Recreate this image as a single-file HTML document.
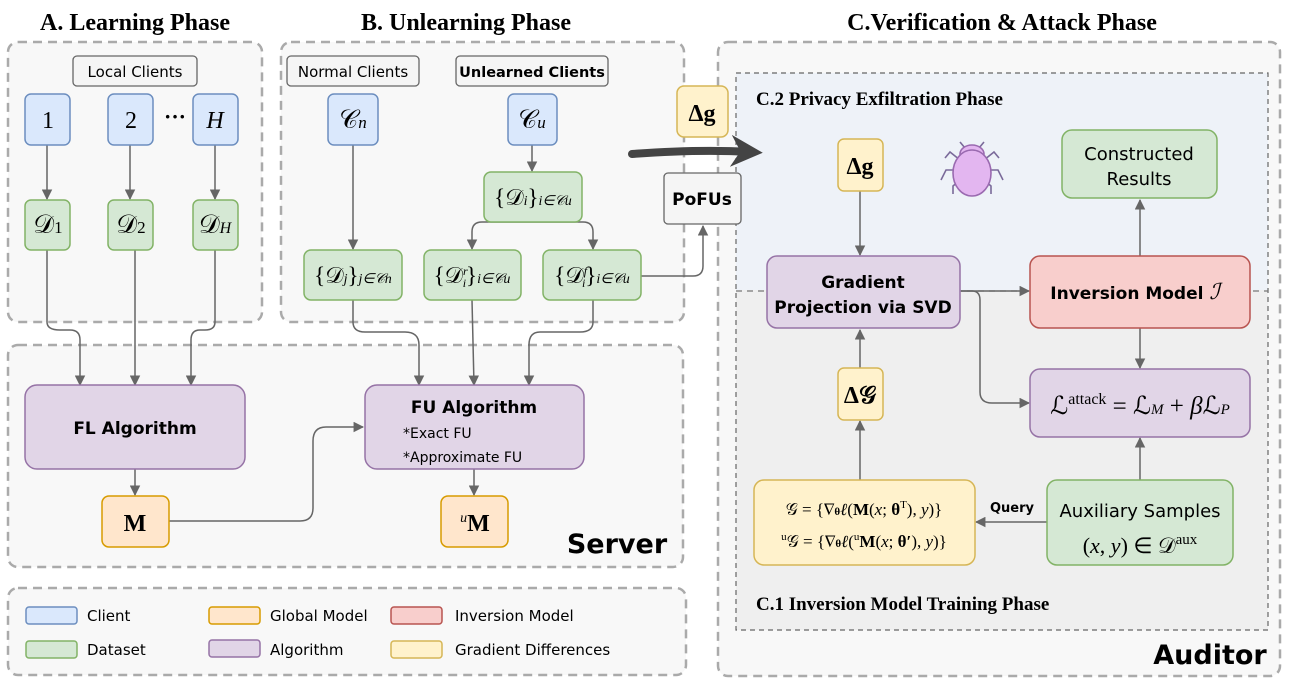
<!DOCTYPE html>
<html><head><meta charset="utf-8"><style>
body{margin:0;background:#fff}
svg{display:block}
.t{font-family:"DejaVu Sans","Liberation Sans",sans-serif;}
.s{font-family:"Liberation Serif",serif;}
</style></head><body>
<svg width="1292" height="690" viewBox="0 0 1292 690" xmlns="http://www.w3.org/2000/svg">
<defs>
<marker id="a" viewBox="0 0 10 10" refX="9" refY="5" markerWidth="7" markerHeight="7" orient="auto-start-reverse"><path d="M0,0 L10,5 L0,10 z" fill="#666"/></marker>
<marker id="b" viewBox="0 0 10 10" refX="6" refY="5" markerWidth="4" markerHeight="4" orient="auto"><path d="M0,0 L10,5 L0,10 L3,5 z" fill="#444"/></marker>
</defs>
<rect width="1292" height="690" fill="#fff"/>
<g class="s" font-weight="bold" font-size="24" text-anchor="middle" fill="#000">
<text x="135" y="30">A. Learning Phase</text>
<text x="466" y="30">B. Unlearning Phase</text>
<text x="1002" y="30">C.Verification &amp; Attack Phase</text>
</g>
<g fill="#f8f8f8" stroke="#aaa" stroke-width="2.5" stroke-dasharray="9,6">
<rect x="8" y="42" width="254" height="280" rx="10"/>
<rect x="281" y="42" width="403" height="280" rx="10"/>
<rect x="8" y="345" width="675" height="222" rx="10"/>
<rect x="8" y="588" width="678" height="87" rx="10"/>
<rect x="718" y="42" width="562" height="634" rx="10"/>
</g>
<rect x="736" y="73" width="532" height="217" fill="#eef2f8"/>
<rect x="736" y="290" width="532" height="340" fill="#efefef"/>
<rect x="736" y="73" width="532" height="557" fill="none" stroke="#666" stroke-width="1.2" stroke-dasharray="5,4"/>
<line x1="736" y1="291" x2="1268" y2="291" stroke="#777" stroke-width="1.2" stroke-dasharray="6,5"/>
<g class="s" font-weight="bold" font-size="19" fill="#000">
<text x="756" y="105">C.2 Privacy Exfiltration Phase</text>
<text x="756" y="610">C.1 Inversion Model Training Phase</text>
</g>
<g fill="#f5f5f5" stroke="#666" stroke-width="1.3">
<rect x="73" y="56" width="124" height="30" rx="4"/>
<rect x="287" y="56" width="132" height="30" rx="4"/>
<rect x="456" y="56" width="152" height="30" rx="4"/>
<rect x="664" y="173" width="77" height="51" rx="4"/>
</g>
<g class="t" font-size="15" text-anchor="middle" fill="#000">
<text x="135" y="77">Local Clients</text>
<text x="353" y="77">Normal Clients</text>
<text x="532" y="77" font-weight="bold" font-size="14.5">Unlearned Clients</text>
<text x="702" y="205" font-size="17" font-weight="bold">PoFUs</text>
</g>
<g stroke="#666" stroke-width="1.5" fill="none" marker-end="url(#a)">
<line x1="47" y1="145" x2="47" y2="199"/>
<line x1="130" y1="145" x2="130" y2="199"/>
<line x1="215" y1="145" x2="215" y2="199"/>
<path d="M47,250 V322 Q47,330 60,330 H70 Q80,330 80,340 V385"/>
<line x1="135" y1="250" x2="135" y2="385"/>
<path d="M215,250 V322 Q215,330 205,330 H200 Q191,330 191,340 V385"/>
<line x1="353" y1="145" x2="353" y2="249"/>
<line x1="532" y1="145" x2="532" y2="171"/>
<path d="M532,222 H482 Q472,222 472,232 V249"/>
<path d="M532,222 H583 Q593,222 593,232 V249"/>
<path d="M353,300 V322 Q353,332 365,332 H405 Q419,332 419,345 V385"/>
<line x1="472" y1="300" x2="474" y2="385"/>
<path d="M593,300 V322 Q593,332 580,332 H540 Q529,332 529,345 V385"/>
<path d="M641,276 H693 Q703,276 703,266 V226"/>
<line x1="135" y1="469" x2="135" y2="495"/>
<path d="M169,521 H300 Q313,521 313,508 V441 Q313,427 326,427 H363"/>
<line x1="474" y1="469" x2="474" y2="495"/>
<line x1="860" y1="191" x2="860" y2="255"/>
<line x1="860" y1="368" x2="860" y2="330"/>
<line x1="860" y1="480" x2="860" y2="421"/>
<line x1="1047" y1="522" x2="976" y2="522"/>
<line x1="1140" y1="480" x2="1140" y2="438"/>
<line x1="1140" y1="328" x2="1140" y2="368"/>
<line x1="1140" y1="256" x2="1140" y2="200"/>
<line x1="961" y1="291" x2="1029" y2="291"/>
<path d="M961,291 H972 Q980,291 980,300 V392 Q980,403 992,403 H1029"/>
</g>
<path d="M632,154 Q700,149 750,152" stroke="#444" stroke-width="8" fill="none" stroke-linecap="round" marker-end="url(#b)"/>
<g stroke-width="1.5">
<g fill="#dae8fc" stroke="#6c8ebf">
<rect x="25" y="94" width="45" height="51" rx="6"/><rect x="108" y="94" width="45" height="51" rx="6"/><rect x="193" y="94" width="45" height="51" rx="6"/>
<rect x="328" y="94" width="50" height="51" rx="6"/><rect x="508" y="94" width="49" height="51" rx="6"/>
<rect x="26" y="607" width="51" height="17" rx="3"/>
</g>
<g fill="#d5e8d4" stroke="#82b366">
<rect x="25" y="200" width="45" height="50" rx="6"/><rect x="108" y="200" width="45" height="50" rx="6"/><rect x="193" y="200" width="45" height="50" rx="6"/>
<rect x="484" y="172" width="98" height="50" rx="7"/>
<rect x="304" y="250" width="98" height="50" rx="7"/><rect x="424" y="250" width="97" height="50" rx="7"/><rect x="543" y="250" width="98" height="50" rx="7"/>
<rect x="1062" y="130" width="155" height="68" rx="10"/>
<rect x="1047" y="480" width="186" height="85" rx="10"/>
<rect x="26" y="641" width="51" height="17" rx="3"/>
</g>
<g fill="#e1d5e7" stroke="#9673a6">
<rect x="25" y="385" width="220" height="84" rx="12"/>
<rect x="365" y="385" width="219" height="84" rx="12"/>
<rect x="767" y="256" width="193" height="72" rx="10"/>
<rect x="1030" y="369" width="220" height="68" rx="10"/>
<rect x="209" y="640" width="51" height="17" rx="3"/>
</g>
<g fill="#ffe6cc" stroke="#d79b00">
<rect x="102" y="496" width="67" height="51" rx="7"/><rect x="441" y="496" width="67" height="51" rx="7"/>
<rect x="209" y="607" width="51" height="17" rx="3"/>
</g>
<g fill="#fff2cc" stroke="#d6b656">
<rect x="677" y="86" width="51" height="51" rx="7"/>
<rect x="838" y="139" width="45" height="52" rx="6"/>
<rect x="838" y="368" width="45" height="52" rx="6"/>
<rect x="754" y="480" width="221" height="85" rx="10"/>
<rect x="391" y="641" width="51" height="17" rx="3"/>
</g>
<g fill="#f8cecc" stroke="#b85450">
<rect x="1030" y="256" width="220" height="72" rx="10"/>
<rect x="391" y="607" width="51" height="17" rx="3"/>
</g>
</g>
<g class="s" font-size="24" text-anchor="middle" fill="#000">
<text x="48" y="128">1</text><text x="131" y="128">2</text><text x="215" y="128" font-style="italic">H</text>
<text x="175" y="124" font-weight="bold" font-size="22">···</text>
<text x="48" y="233" font-size="26">𝒟<tspan font-size="17">1</tspan></text>
<text x="131" y="233" font-size="26">𝒟<tspan font-size="17">2</tspan></text>
<text x="215" y="233" font-size="26">𝒟<tspan font-size="16" font-style="italic">H</tspan></text>
<text x="353" y="128" font-size="26">𝒞<tspan font-size="17" font-style="italic">n</tspan></text>
<text x="532" y="128" font-size="26">𝒞<tspan font-size="17" font-style="italic">u</tspan></text>
<text x="533" y="205" font-size="23">{𝒟<tspan font-size="14" font-style="italic">i</tspan>}<tspan font-size="14" font-style="italic">i∈𝒞u</tspan></text>
<text x="353" y="283" font-size="23">{𝒟<tspan font-size="14" font-style="italic">j</tspan>}<tspan font-size="14" font-style="italic">j∈𝒞n</tspan></text>
<text x="472" y="283" font-size="23">{𝒟<tspan font-size="12" font-style="italic" dy="-8">r</tspan><tspan font-size="12" font-style="italic" dx="-5" dy="12">i</tspan><tspan dy="-4">}</tspan><tspan font-size="14" font-style="italic">i∈𝒞u</tspan></text>
<text x="592" y="283" font-size="23">{𝒟<tspan font-size="12" font-style="italic" dy="-8">f</tspan><tspan font-size="12" font-style="italic" dx="-5" dy="12">i</tspan><tspan dy="-4">}</tspan><tspan font-size="14" font-style="italic">i∈𝒞u</tspan></text>
<text x="702" y="121" font-weight="bold">Δg</text>
<text x="860" y="174" font-weight="bold">Δg</text>
<text x="860" y="403" font-weight="bold">Δ𝒢</text>
<text x="135" y="531" font-weight="bold">M</text>
<text x="475" y="531" font-weight="bold"><tspan font-size="14" font-style="italic" font-weight="normal" dy="-9">u</tspan><tspan dy="9">M</tspan></text>
<text x="1140" y="414" font-size="25">ℒ<tspan font-size="16" dy="-10">attack</tspan><tspan dy="10"> = ℒ</tspan><tspan font-size="15" font-style="italic">M</tspan> + <tspan font-style="italic">β</tspan>ℒ<tspan font-size="15" font-style="italic">P</tspan></text>
<text x="864" y="515" font-size="17">𝒢 = {∇<tspan font-size="11" font-weight="bold">θ</tspan><tspan font-style="italic">ℓ</tspan>(<tspan font-weight="bold">M</tspan>(<tspan font-style="italic">x</tspan>; <tspan font-weight="bold">θ</tspan><tspan font-size="11" dy="-7">T</tspan><tspan dy="7">), </tspan><tspan font-style="italic">y</tspan>)}</text>
<text x="864" y="547" font-size="17"><tspan font-size="11" dy="-7">u</tspan><tspan dy="7">𝒢 = {∇</tspan><tspan font-size="11" font-weight="bold">θ</tspan><tspan font-style="italic">ℓ</tspan>(<tspan font-size="11" dy="-7">u</tspan><tspan dy="7" font-weight="bold">M</tspan>(<tspan font-style="italic">x</tspan>; <tspan font-weight="bold">θ′</tspan>), <tspan font-style="italic">y</tspan>)}</text>
<text x="1140" y="553" font-size="22">(<tspan font-style="italic">x</tspan>, <tspan font-style="italic">y</tspan>) ∈ 𝒟<tspan font-size="15" dy="-9">aux</tspan></text>
</g>
<g class="t" text-anchor="middle" fill="#000">
<text x="135" y="434" font-size="17" font-weight="bold">FL Algorithm</text>
<text x="474" y="413" font-size="17" font-weight="bold">FU Algorithm</text>
<text x="403" y="438" font-size="14" text-anchor="start">*Exact FU</text>
<text x="403" y="462" font-size="14" text-anchor="start">*Approximate FU</text>
<text x="1139" y="160" font-size="18">Constructed</text>
<text x="1139" y="185" font-size="18">Results</text>
<text x="863" y="288" font-size="17" font-weight="bold">Gradient</text>
<text x="863" y="313" font-size="17" font-weight="bold">Projection via SVD</text>
<text x="1135" y="299" font-size="17" font-weight="bold">Inversion Model <tspan class="s" font-style="italic" font-weight="normal" font-size="22">ℐ</tspan></text>
<text x="1140" y="517" font-size="18">Auxiliary Samples</text>
<text x="1012" y="512" font-size="13" font-weight="bold">Query</text>
<text x="617" y="553" font-size="27" font-weight="bold">Server</text>
<text x="1210" y="664" font-size="27" font-weight="bold">Auditor</text>
</g>
<g class="t" font-size="15" fill="#000">
<text x="87" y="621">Client</text><text x="87" y="655">Dataset</text>
<text x="270" y="621">Global Model</text><text x="270" y="655">Algorithm</text>
<text x="455" y="621">Inversion Model</text><text x="455" y="655">Gradient Differences</text>
</g>
<g transform="translate(972,168)" stroke="#7a6a9a" stroke-width="1.6" fill="none">
<path d="M-12,-8 L-22,-16 L-27,-10 M12,-8 L22,-16 L27,-10 M-15,2 L-26,2 L-31,12 M15,2 L26,2 L31,12 M-12,12 L-19,18 L-19,26 M12,12 L19,18 L19,26 M-7,-20 L-12,-26 M7,-20 L12,-26"/>
<ellipse cx="0" cy="-14" rx="12" ry="9" fill="#e3b6f0" stroke="#9a6ab0"/>
<ellipse cx="0" cy="5" rx="19" ry="23" fill="#e3b6f0" stroke="#9a6ab0"/>
</g>
</svg>
</body></html>
